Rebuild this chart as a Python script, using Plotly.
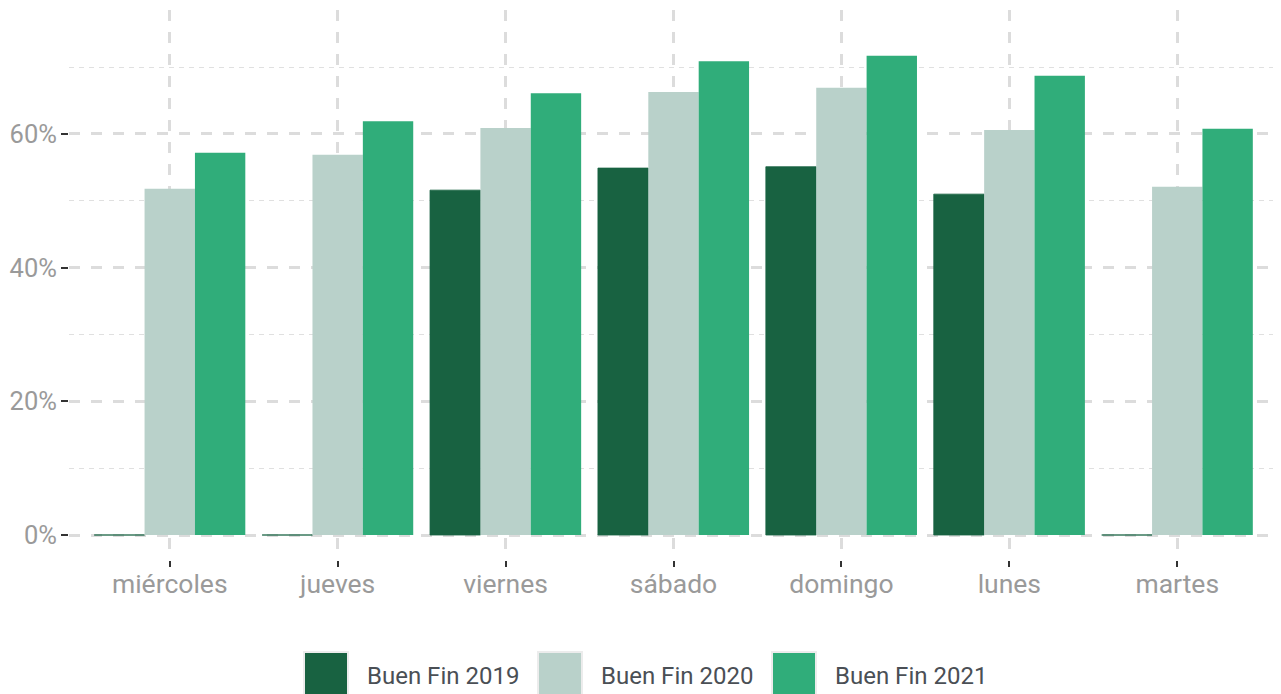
import plotly.graph_objects as go

days = ["miércoles", "jueves", "viernes", "sábado", "domingo", "lunes", "martes"]
bf2019 = [0, 0, 51.6, 54.9, 55.1, 51.0, 0]
bf2020 = [51.8, 56.9, 60.9, 66.3, 66.9, 60.6, 52.1]
bf2021 = [57.2, 61.9, 66.1, 70.9, 71.7, 68.7, 60.8]
series_names = ["Buen Fin 2019", "Buen Fin 2020", "Buen Fin 2021"]
colors = ["#186241", "#b9d1ca", "#30ad7a"]
y_tick_vals = [0, 20, 40, 60]
y_tick_text = ["0%", "20%", "40%", "60%"]

OFF = 8  # page body margin
W, H = 1281, 694
ML, MR, MT, MB = 61, 11, 2, 142
PW, PH = W - ML - MR, H - MT - MB


def px_x(p):
    return (p - OFF - ML) / PW


def px_y(p):
    return (H - MB - (p - OFF)) / PH


fig = go.Figure()
for name, vals, col in zip(series_names, [bf2019, bf2020, bf2021], colors):
    fig.add_trace(go.Bar(
        x=days, y=vals, name=name, marker_color=col,
        marker_line=dict(width=0.8 if name.endswith("2019") else 0, color=col),
        showlegend=False,
    ))

grid = "#dcdcdc"
fig.update_layout(
    width=W, height=H,
    margin=dict(l=ML, r=MR, t=MT, b=MB, autoexpand=False),
    paper_bgcolor="white", plot_bgcolor="white",
    barmode="group", bargap=0.1, bargroupgap=0,
    font=dict(family="Roboto", size=25, color="#9a9a9a"),
    xaxis=dict(
        range=[-0.6, 6.6], showgrid=True, gridcolor=grid, gridwidth=2.5,
        griddash="11px,11px", ticks="outside", ticklen=6, tickwidth=2,
        tickcolor="#333333", showline=False, zeroline=False, automargin=False,
        tickfont=dict(family="Roboto", size=26.5, color="#9a9a9a"),
        ticklabelstandoff=-6,
    ),
    yaxis=dict(
        range=[-3.74, 78.55], tickmode="array", tickvals=y_tick_vals,
        ticktext=y_tick_text, automargin=False,
        showgrid=True, gridcolor=grid, gridwidth=2.5, griddash="11px,11px",
        ticks="outside", ticklen=7, tickwidth=2, tickcolor="#333333",
        zeroline=False, showline=False,
        tickfont=dict(family="Roboto", size=25.5, color="#9a9a9a"),
        ticklabelstandoff=-1,
        minor=dict(tickvals=[10, 30, 50, 70], showgrid=True, gridcolor="#e0e0e0",
                   gridwidth=1.2, griddash="5px,5px", ticks=""),
    ),
)

# custom legend with large square keys
box_left = [304, 538, 772]
text_left = [365, 599, 833]
for name, col, bl, tl in zip(series_names, colors, box_left, text_left):
    fig.add_shape(type="rect", xref="paper", yref="paper",
                  x0=px_x(bl), x1=px_x(bl + 44), y0=px_y(700), y1=px_y(652),
                  fillcolor=col, line=dict(color="#ececec", width=2), layer="above")
    fig.add_annotation(xref="paper", yref="paper", x=px_x(tl), y=px_y(676),
                       xanchor="left", yanchor="middle", showarrow=False,
                       text=name, font=dict(family="Roboto", size=24, color="#4a4f55"))

fig.write_html("out.html")
